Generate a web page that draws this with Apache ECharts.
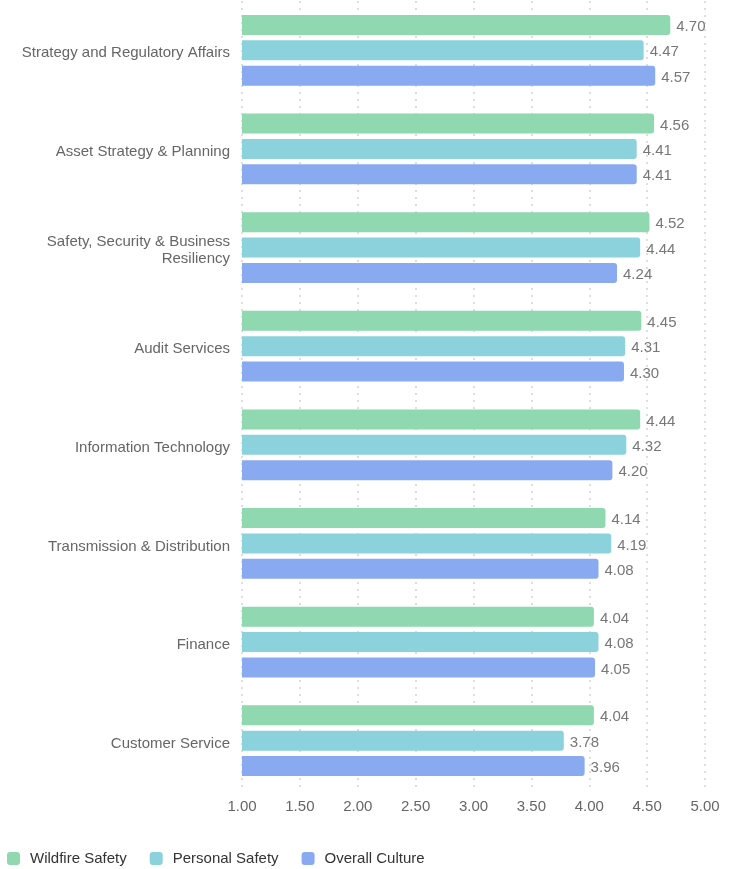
<!DOCTYPE html>
<html><head><meta charset="utf-8">
<script src="https://cdn.jsdelivr.net/npm/echarts@6/dist/echarts.min.js"></script>
<style>html,body{margin:0;padding:0;background:#fff}#c{width:740px;height:869px}</style>
</head><body><div id="c"></div>
<script>
const categories = ["Strategy and Regulatory Affairs","Asset Strategy & Planning","Safety, Security & Business Resiliency","Audit Services","Information Technology","Transmission & Distribution","Finance","Customer Service"];
const wildfire = [4.70,4.56,4.52,4.45,4.44,4.14,4.04,4.04];
const personal = [4.47,4.41,4.44,4.31,4.32,4.19,4.08,3.78];
const overall = [4.57,4.41,4.24,4.30,4.20,4.08,4.05,3.96];
const seriesNames = ["Wildfire Safety","Personal Safety","Overall Culture"];
const colors = ["#90d8b0","#8cd2dc","#89a9f0"];
const font = "'Liberation Sans', Arial, sans-serif";
const chart = echarts.init(document.getElementById('c'), null, {renderer:'canvas'});
const mk = (name, data, i) => ({
  name, type:'bar', data, barWidth:20, barGap:'27%', barCategoryGap:'28%',
  itemStyle:{color:colors[i], borderRadius:[0,3,3,0]},
  label:{show:true, position:'right', distance:6, offset:[0,2], color:'#777', fontSize:15, fontFamily:font,
    formatter:p=>p.value.toFixed(2)}
});
chart.setOption({
  animation:false,
  textStyle:{fontFamily:font},
  color:colors,
  grid:{left:242, right:35, top:1, bottom:79, containLabel:false},
  legend:{left:7, top:851, padding:0, itemWidth:13, itemHeight:13, itemGap:23, icon:'roundRect',
    textStyle:{fontSize:15, color:'#333', fontFamily:font, padding:[0,0,0,5]}, data:seriesNames},
  xAxis:{type:'value', min:1, max:5, interval:0.5,
    axisLine:{show:false}, axisTick:{show:false},
    splitLine:{show:true, lineStyle:{color:'#dedede', type:[2,5], width:2}},
    axisLabel:{color:'#666', fontSize:15, margin:9, formatter:v=>v.toFixed(2)}},
  yAxis:{type:'category', data:categories, inverse:true,
    axisLine:{show:false}, axisTick:{show:false},
    axisLabel:{color:'#666', fontSize:15, margin:12, lineHeight:17,
      formatter:v=>{
        const lines = v.indexOf('Business ')>0 ? v.replace('Business ','Business\n').split('\n') : [v];
        return '{p|}\n' + lines.map(l=>'{t|'+l+'}').join('\n');
      },
      rich:{p:{height:6, lineHeight:6, fontSize:1}, t:{fontSize:15, lineHeight:17, color:'#666', align:'right'}}}},
  series:[mk(seriesNames[0],wildfire,0), mk(seriesNames[1],personal,1), mk(seriesNames[2],overall,2)]
});
</script></body></html>
